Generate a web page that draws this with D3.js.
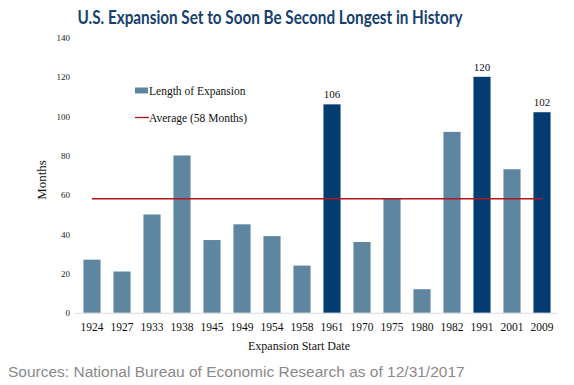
<!DOCTYPE html>
<html><head><meta charset="utf-8">
<script src="https://cdn.jsdelivr.net/npm/d3@7"></script>
<style>body{margin:0;background:#fff}svg{display:block}</style>
</head><body><svg id="c" width="574" height="385"></svg>
<script>
const years = ["1924","1927","1933","1938","1945","1949","1954","1958","1961","1970","1975","1980","1982","1991","2001","2009"];
const months = [27,21,50,80,37,45,39,24,106,36,58,12,92,120,73,102];
const highlighted = ["1961","1991","2009"];
const average = 58;
const yTicks = [0,20,40,60,80,100,120,140];
const title = "U.S. Expansion Set to Soon Be Second Longest in History";
const source = "Sources: National Bureau of Economic Research as of 12/31/2017";

const svg = d3.select("#c");
const serif = "'Liberation Serif', 'DejaVu Serif', serif";
const light = "#5e86a1", dark = "#023c70";

const x = d3.scaleBand().domain(years).range([77,557]).paddingInner(0.43).paddingOuter(0.215);
const y = d3.scaleLinear().domain([0,140]).range([312.8,37.5]);

svg.append("text").attr("x",270).attr("y",24).attr("text-anchor","middle")
  .attr("font-family","Lato, 'Open Sans', sans-serif").attr("font-weight","bold")
  .attr("font-size",18).attr("fill","#17406f").attr("textLength",385).attr("lengthAdjust","spacingAndGlyphs")
  .text(title);

// y axis ticks
const ya = svg.append("g").attr("transform","translate(70,0)")
  .call(d3.axisLeft(y).tickValues(yTicks).tickSize(0).tickPadding(0));
ya.attr("font-family",serif);
ya.select(".domain").remove();
ya.selectAll("text").attr("font-family",serif).attr("font-size",9).attr("fill","#222");

svg.append("text").attr("transform","translate(46,180) rotate(-90)").attr("text-anchor","middle")
  .attr("font-family",serif).attr("font-size",13).attr("fill","#111").text("Months");

// bars
svg.append("g").selectAll("rect").data(years).join("rect")
  .attr("x",d=>x(d)).attr("width",x.bandwidth())
  .attr("y",(d,i)=>y(months[i])).attr("height",(d,i)=>y(0)-y(months[i]))
  .attr("fill",d=>highlighted.includes(d)?dark:light);

// labels on highlighted bars
svg.append("g").selectAll("text").data(years.filter(d=>highlighted.includes(d))).join("text")
  .attr("x",d=>x(d)+x.bandwidth()/2).attr("y",d=>y(months[years.indexOf(d)])-6)
  .attr("text-anchor","middle").attr("font-family",serif).attr("font-size",11).attr("fill","#111")
  .text(d=>months[years.indexOf(d)]);

// x axis
const xa = svg.append("g").attr("transform",`translate(0,${y(0)})`)
  .call(d3.axisBottom(x).tickSize(0).tickPadding(10));
xa.attr("font-family",serif);
xa.select(".domain").attr("stroke","#dcdcdc").attr("d","M75,0.5H557");
xa.selectAll("text").attr("font-family",serif).attr("font-size",11.5).attr("fill","#111");

svg.append("text").attr("x",299).attr("y",350).attr("text-anchor","middle")
  .attr("font-family",serif).attr("font-size",12).attr("fill","#111").text("Expansion Start Date");

// average line
svg.append("line").attr("x1",x(years[0])+x.bandwidth()/2).attr("x2",x(years[years.length-1])+x.bandwidth()/2)
  .attr("y1",y(average)).attr("y2",y(average)).attr("stroke","#b2141b").attr("stroke-width",1.3);

// legend
svg.append("rect").attr("x",135).attr("y",87.5).attr("width",13).attr("height",6).attr("fill",light);
svg.append("text").attr("x",149).attr("y",94.5).attr("font-family",serif).attr("font-size",11.5).attr("fill","#111").text("Length of Expansion");
svg.append("line").attr("x1",135).attr("x2",149).attr("y1",117.5).attr("y2",117.5).attr("stroke","#b2141b").attr("stroke-width",1.3);
svg.append("text").attr("x",149).attr("y",121.5).attr("font-family",serif).attr("font-size",11.5).attr("fill","#111").text(`Average (${average} Months)`);

svg.append("text").attr("x",8).attr("y",377).attr("font-family","'Liberation Sans', Arial, sans-serif")
  .attr("font-size",15.5).attr("fill","#8a8a8a").text(source);
</script></body></html>
